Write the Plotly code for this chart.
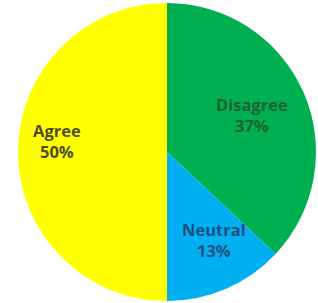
import math
import plotly.graph_objects as go

labels = ["Disagree", "Neutral", "Agree"]
values = [37, 13, 50]
colors = ["#00B050", "#00B0F0", "#FFFF00"]
text_colors = ["#1E6236", "#1F4F80", "#4D4D24"]
label_radius = [0.62, 0.67, 0.742]     # fraction of pie radius where each label sits
label_angle_shift = [0.0, -4.7, 5.7]   # degrees, clockwise, from slice middle

W, H = 318, 303
cx_px, cy_px, R_px = 167, 152, 149

fig = go.Figure(go.Pie(
    labels=labels,
    values=values,
    sort=False,
    direction="clockwise",
    rotation=0,
    marker=dict(colors=colors, line=dict(width=0)),
    textinfo="none",
    domain=dict(x=[(cx_px - R_px) / W, (cx_px + R_px) / W],
                y=[1 - (cy_px + R_px) / H, 1 - (cy_px - R_px) / H]),
    showlegend=False,
    hoverinfo="label+percent",
))

total = sum(values)
cum = 0
for lab, v, col, f, sh in zip(labels, values, text_colors, label_radius, label_angle_shift):
    theta = 2 * math.pi * (cum + v / 2) / total + math.radians(sh)
    cum += v
    x = cx_px / W + f * R_px * math.sin(theta) / W
    y = 1 - cy_px / H + f * R_px * math.cos(theta) / H
    pct = round(100 * v / total)
    fig.add_annotation(
        x=x, y=y, xref="paper", yref="paper",
        text=f"<b>{lab}</b><br><b>{pct}%</b>",
        showarrow=False, xanchor="center", yanchor="middle",
        font=dict(family="Open Sans", size=16.5, color=col),
    )

fig.update_layout(
    width=W, height=H,
    margin=dict(l=0, r=0, t=0, b=0),
    paper_bgcolor="white",
    plot_bgcolor="white",
)

fig.write_html("out.html", config={"displayModeBar": False},
               post_script="document.body.style.margin='0';document.body.style.overflow='hidden';")
